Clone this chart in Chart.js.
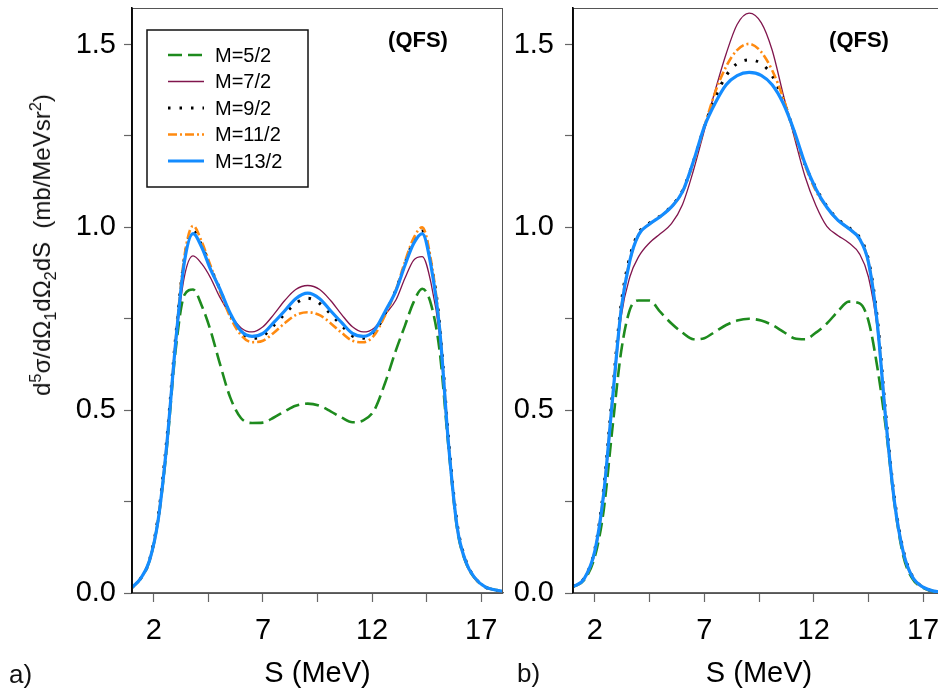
<!DOCTYPE html>
<html>
<head>
<meta charset="utf-8">
<script src="https://cdn.jsdelivr.net/npm/chart.js@4.4.0/dist/chart.umd.min.js"></script>
<style>
  html, body { margin: 0; padding: 0; background: #fff; overflow: hidden; }
  body { width: 938px; height: 693px; position: relative; font-family: "Liberation Sans", Arial, sans-serif; }
  .panel { position: absolute; top: 0; height: 693px; }
  #panelA { left: 0; width: 515px; }
  #panelB { left: 505px; width: 455px; }
  .tag { position: absolute; font-size: 26px; color: #111; line-height: 1; }
  #ytitle { position: absolute; left: 42px; top: 245px; transform: translate(-50%, -50%) rotate(-90deg);
            white-space: nowrap; font-size: 24px; color: #111; line-height: 1; }
  #ytitle sup, #ytitle sub { font-size: 0.68em; line-height: 0; }
</style>
</head>
<body>
<div class="panel" id="panelA"><canvas id="chartA"></canvas></div>
<div class="panel" id="panelB"><canvas id="chartB"></canvas></div>
<div id="ytitle">d<sup>5</sup>σ/dΩ<sub>1</sub>dΩ<sub>2</sub>dS&nbsp;&nbsp;(mb/MeVsr<sup>2</sup>)</div>
<div class="tag" style="left:9px; top:661px;">a)</div>
<div class="tag" style="left:517px; top:660px;">b)</div>
<script>
// series names
const seriesLabels = ['M=5/2', 'M=7/2', 'M=9/2', 'M=11/2', 'M=13/2'];

// tick values
const xTickValues = [2, 4.5, 7, 9.5, 12, 14.5, 17];
const xTickLabels = [2, 7, 12, 17];
const yTickValues = [0, 0.25, 0.5, 0.75, 1.0, 1.25, 1.5];
const yTickLabels = [0, 0.5, 1.0, 1.5];

// panel a) energies S (MeV) and cross sections
const sLeft = [1, 1.4, 1.8, 2.2, 2.6, 3.0, 3.4, 3.8, 4.2, 4.6, 5.0, 5.5, 6.0, 6.5, 7.0, 7.5, 8.0, 8.5, 9.05, 9.6,
               10.1, 10.6, 11.1, 11.6, 12.1, 12.6, 13.1, 13.5, 13.9, 14.3, 14.7, 15.1, 15.5, 15.9, 16.3, 16.7, 17.2, 17.6, 18.0];
const aM5  = [0.015, 0.04, 0.088, 0.2, 0.4, 0.665, 0.815, 0.83, 0.785, 0.718, 0.633, 0.535, 0.478, 0.465, 0.466, 0.48, 0.497, 0.512, 0.518, 0.512,
              0.497, 0.48, 0.467, 0.472, 0.5, 0.575, 0.665, 0.73, 0.795, 0.832, 0.79, 0.66, 0.4, 0.175, 0.083, 0.041, 0.016, 0.009, 0.005];
const aM7  = [0.015, 0.04, 0.088, 0.2, 0.41, 0.68, 0.865, 0.922, 0.9, 0.862, 0.812, 0.762, 0.725, 0.714, 0.728, 0.762, 0.8, 0.83, 0.841, 0.83,
              0.8, 0.762, 0.728, 0.714, 0.725, 0.762, 0.802, 0.86, 0.91, 0.92, 0.848, 0.7, 0.41, 0.18, 0.085, 0.042, 0.016, 0.009, 0.005];
const aM9  = [0.015, 0.04, 0.09, 0.21, 0.425, 0.7, 0.915, 0.99, 0.95, 0.89, 0.835, 0.762, 0.712, 0.697, 0.703, 0.732, 0.763, 0.792, 0.806, 0.792,
              0.763, 0.732, 0.703, 0.697, 0.712, 0.765, 0.83, 0.9, 0.962, 0.99, 0.905, 0.735, 0.425, 0.19, 0.088, 0.043, 0.016, 0.009, 0.005];
const aM11 = [0.015, 0.04, 0.088, 0.2, 0.41, 0.69, 0.92, 1.004, 0.96, 0.895, 0.83, 0.755, 0.705, 0.686, 0.69, 0.712, 0.738, 0.76, 0.768, 0.76,
              0.738, 0.712, 0.69, 0.686, 0.705, 0.76, 0.83, 0.905, 0.97, 1.0, 0.91, 0.725, 0.41, 0.18, 0.085, 0.042, 0.016, 0.009, 0.005];
const aM13 = [0.015, 0.04, 0.088, 0.2, 0.41, 0.685, 0.905, 0.983, 0.945, 0.885, 0.835, 0.765, 0.716, 0.702, 0.71, 0.74, 0.772, 0.805, 0.82, 0.805,
              0.772, 0.74, 0.71, 0.702, 0.718, 0.77, 0.828, 0.895, 0.955, 0.983, 0.895, 0.72, 0.41, 0.18, 0.085, 0.042, 0.016, 0.009, 0.005];

// panel b)
const sRight = [1, 1.5, 2, 2.4, 2.8, 3.2, 3.6, 4.0, 4.5, 5.0, 5.5, 6.0, 6.5, 7.0, 7.5, 8.0, 8.5, 9.05, 9.6, 10.1,
                10.6, 11.1, 11.6, 12.1, 12.6, 13.1, 13.6, 14.1, 14.5, 14.9, 15.3, 15.7, 16.1, 16.5, 17.0, 17.5, 18];
const bM5  = [0.017, 0.035, 0.1, 0.225, 0.45, 0.66, 0.775, 0.8, 0.8, 0.768, 0.737, 0.712, 0.694, 0.697, 0.715, 0.733, 0.745, 0.75, 0.745, 0.733,
              0.715, 0.697, 0.694, 0.712, 0.737, 0.77, 0.797, 0.792, 0.745, 0.62, 0.45, 0.24, 0.1, 0.04, 0.014, 0.004, 0.001];
const bM7  = [0.017, 0.038, 0.115, 0.27, 0.52, 0.755, 0.865, 0.92, 0.958, 0.983, 1.01, 1.062, 1.155, 1.265, 1.375, 1.475, 1.555, 1.586, 1.56, 1.485,
              1.365, 1.25, 1.14, 1.06, 1.003, 0.978, 0.958, 0.927, 0.865, 0.725, 0.468, 0.245, 0.11, 0.045, 0.016, 0.005, 0.001];
const bM9  = [0.017, 0.04, 0.12, 0.285, 0.545, 0.79, 0.92, 0.985, 1.012, 1.032, 1.058, 1.1, 1.18, 1.275, 1.355, 1.415, 1.448, 1.458, 1.448, 1.415,
              1.35, 1.262, 1.172, 1.108, 1.058, 1.023, 1.0, 0.972, 0.912, 0.755, 0.485, 0.255, 0.115, 0.047, 0.016, 0.005, 0.001];
const bM11 = [0.017, 0.038, 0.115, 0.27, 0.527, 0.775, 0.91, 0.98, 1.009, 1.03, 1.056, 1.097, 1.175, 1.275, 1.37, 1.44, 1.485, 1.502, 1.48, 1.43,
              1.355, 1.26, 1.17, 1.1, 1.055, 1.02, 0.997, 0.968, 0.905, 0.74, 0.47, 0.245, 0.11, 0.045, 0.016, 0.005, 0.001];
const bM13 = [0.017, 0.038, 0.115, 0.27, 0.527, 0.775, 0.91, 0.98, 1.009, 1.03, 1.056, 1.097, 1.18, 1.275, 1.34, 1.39, 1.415, 1.424, 1.416, 1.39,
              1.34, 1.265, 1.175, 1.105, 1.055, 1.02, 0.997, 0.968, 0.905, 0.74, 0.47, 0.245, 0.11, 0.045, 0.016, 0.005, 0.001];

// line looks, one per series
const lineColors = ['#1e8b1e', '#80154d', '#000000', '#ff8a10', '#148cff'];
const lineWidths = [2.6, 1.3, 3, 2.6, 3.2];
const lineDashes = [[14, 6], [], [2.5, 9], [9, 3, 2, 3], []];
const drawOrder = [4, 3, 2, 1, 0]; // blue ends up on top

const FONT = '"Liberation Sans", Arial, sans-serif';

function buildDatasets(s, series) {
    return series.map((vals, i) => ({
        label: seriesLabels[i],
        data: s.map((x, k) => ({ x: x, y: vals[k] })),
        borderColor: lineColors[i],
        borderWidth: lineWidths[i],
        borderDash: lineDashes[i],
        borderCapStyle: 'butt',
        pointRadius: 0,
        fill: false,
        cubicInterpolationMode: 'monotone',
        order: drawOrder[i]
    }));
}

// frame, (QFS) tag and the boxed legend
const decorPlugin = {
    id: 'decor',
    afterDatasetsDraw(chart, args, opts) {
        const ctx = chart.ctx;
        const a = chart.chartArea;
        ctx.save();
        ctx.strokeStyle = '#555';
        ctx.lineWidth = 1;
        ctx.strokeRect(a.left, a.top + 0.5, a.right - a.left - 0.5, a.bottom - a.top);
        ctx.strokeStyle = '#000';
        ctx.lineWidth = 1.6;
        ctx.beginPath();
        ctx.moveTo(a.left, a.top);
        ctx.lineTo(a.left, a.bottom);
        ctx.stroke();

        ctx.fillStyle = '#000';
        ctx.font = 'bold 22px ' + FONT;
        ctx.textAlign = 'center';
        ctx.textBaseline = 'middle';
        ctx.fillText('(QFS)', a.left + 286, a.top + 33);

        if (opts.legend) {
            const bx = a.left + 15, by = a.top + 22, bw = 161, bh = 157;
            ctx.fillStyle = '#fff';
            ctx.fillRect(bx, by, bw, bh);
            ctx.strokeStyle = '#111';
            ctx.lineWidth = 1.5;
            ctx.strokeRect(bx, by, bw, bh);
            ctx.font = '20px ' + FONT;
            ctx.textAlign = 'left';
            chart.data.datasets.forEach((ds, i) => {
                const y = by + 25 + i * 26.5;
                ctx.strokeStyle = ds.borderColor;
                ctx.lineWidth = ds.borderWidth;
                ctx.setLineDash(ds.borderDash);
                ctx.beginPath();
                ctx.moveTo(bx + 21, y);
                ctx.lineTo(bx + 57, y);
                ctx.stroke();
                ctx.setLineDash([]);
                ctx.fillStyle = '#000';
                ctx.fillText(ds.label, bx + 68, y + 1);
            });
        }
        ctx.restore();
    }
};

// drop the extra room Chart.js keeps for edge labels
function noEdgePadding(sc) {
    sc.paddingTop = 0;
    sc.paddingBottom = 0;
    sc.paddingLeft = 0;
    sc.paddingRight = 0;
}

function createPanel(canvasId, s, series, yAxisWidth, yPad, rightPad, withLegend) {
    const ctx = document.getElementById(canvasId).getContext('2d');
    return new Chart(ctx, {
        type: 'line',
        data: { datasets: buildDatasets(s, series) },
        plugins: [decorPlugin],
        options: {
            responsive: true,
            maintainAspectRatio: false,
            animation: false,
            layout: { padding: { top: 8, right: rightPad, left: 0, bottom: 0 } },
            plugins: {
                legend: { display: false },
                tooltip: { enabled: false },
                decor: { legend: withLegend }
            },
            scales: {
                x: {
                    type: 'linear',
                    min: 1,
                    max: 18,
                    afterBuildTicks: sc => { sc.ticks = xTickValues.map(v => ({ value: v })); },
                    afterFit: sc => { sc.height = 100; noEdgePadding(sc); },
                    ticks: {
                        autoSkip: false,
                        maxRotation: 0,
                        padding: 12,
                        color: '#000',
                        font: { family: FONT, size: 29 },
                        callback: v => xTickLabels.includes(v) ? String(v) : ''
                    },
                    grid: { drawOnChartArea: false, drawTicks: true, tickLength: 9, tickColor: '#666', tickWidth: 1.2 },
                    border: { color: '#666', width: 1.2 },
                    title: {
                        display: true,
                        text: 'S (MeV)',
                        color: '#000',
                        font: { family: FONT, size: 29 },
                        padding: { top: 0, bottom: 2 }
                    }
                },
                y: {
                    type: 'linear',
                    min: 0,
                    max: 1.6,
                    afterBuildTicks: sc => { sc.ticks = yTickValues.map(v => ({ value: v })); },
                    afterFit: sc => { sc.width = yAxisWidth; noEdgePadding(sc); },
                    ticks: {
                        padding: yPad,
                        color: '#000',
                        font: { family: FONT, size: 29 },
                        callback: v => yTickLabels.includes(v) ? v.toFixed(1) : ''
                    },
                    grid: { drawOnChartArea: false, drawTicks: true, tickLength: 8, tickColor: '#666', tickWidth: 1.2 },
                    border: { color: '#000', width: 1.6 }
                }
            }
        }
    });
}

createPanel('chartA', sLeft, [aM5, aM7, aM9, aM11, aM13], 132, 8, 12, true);
createPanel('chartB', sRight, [bM5, bM7, bM9, bM11, bM13], 68, 11, 15, false);
</script>
</body>
</html>
